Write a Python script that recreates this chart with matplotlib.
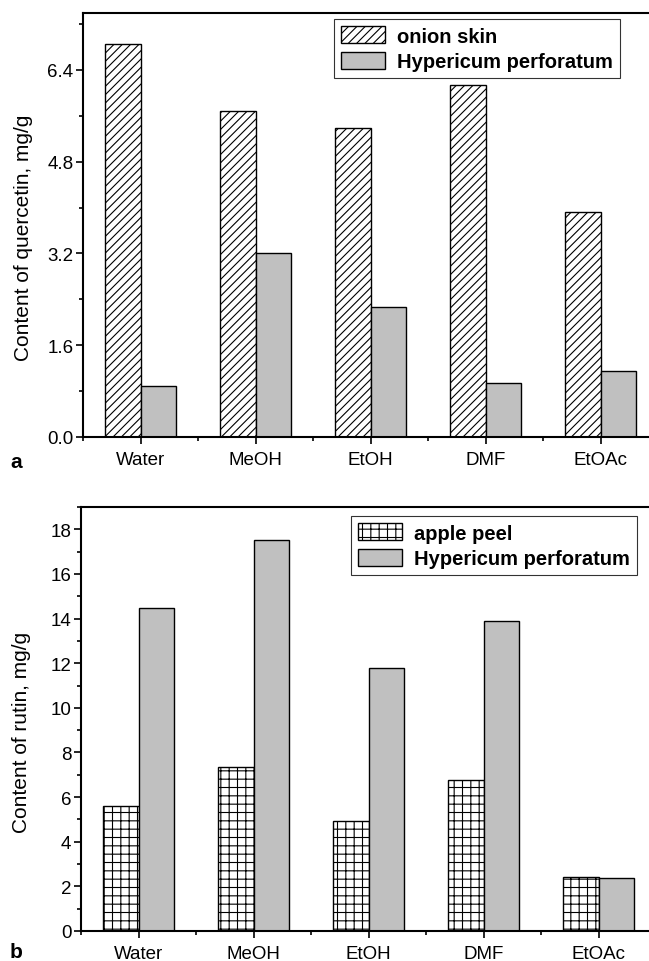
import matplotlib
matplotlib.use("Agg")
import matplotlib.pyplot as plt
from matplotlib.ticker import MultipleLocator, FixedLocator

plt.rcParams['font.family'] = ['Liberation Sans', 'DejaVu Sans']
plt.rcParams['hatch.linewidth'] = 0.8

categories = ["Water", "MeOH", "EtOH", "DMF", "EtOAc"]

# panel a: quercetin content, mg/g
onion_skin = [6.85, 5.69, 5.38, 6.13, 3.92]
hyp_quercetin = [0.89, 3.21, 2.27, 0.95, 1.15]

# panel b: rutin content, mg/g
apple_peel = [5.61, 7.34, 4.93, 6.78, 2.41]
hyp_rutin = [14.49, 17.54, 11.78, 13.91, 2.37]

W, H = 649, 962
fig = plt.figure(figsize=(W / 100, H / 100), dpi=100)

grey = "#c0c0c0"
bw = 0.305
px_per_unit = 115.0
TICK_FS = 13.5
LABEL_FS = 15
LEG_FS = 14.5


def make_axes(left_px, top_px, bottom_px):
    width_px = W - left_px + 20
    ax = fig.add_axes([left_px / W, 1 - bottom_px / H, width_px / W, (bottom_px - top_px) / H])
    ax.set_xlim(0.5, 0.5 + width_px / px_per_unit)
    for s in ["left", "top", "bottom"]:
        ax.spines[s].set_linewidth(1.5)
    ax.spines["right"].set_visible(False)
    xs = list(range(1, len(categories) + 1))
    ax.set_xticks(xs)
    ax.set_xticklabels(categories)
    ax.xaxis.set_minor_locator(FixedLocator([x + 0.5 for x in range(0, len(categories) + 1)]))
    ax.tick_params(axis="both", which="major", direction="out", length=5, width=1.2, labelsize=TICK_FS)
    ax.tick_params(axis="both", which="minor", direction="out", length=3, width=1.2)
    ax.tick_params(axis="x", pad=5)
    ax.tick_params(axis="y", pad=2)
    return ax, xs, width_px


def add_legend(ax, left_px, top_px, ax_left_px, ax_top_px, ax_bottom_px):
    width_px = W - ax_left_px + 20
    leg = ax.legend(loc="upper left",
                    bbox_to_anchor=((left_px - ax_left_px) / width_px,
                                    1 - (top_px - ax_top_px) / (ax_bottom_px - ax_top_px)),
                    prop={"weight": "bold", "size": LEG_FS}, frameon=True, fancybox=False,
                    borderpad=0.35, handlelength=2.2, handleheight=0.95, labelspacing=0.3,
                    handletextpad=0.6, borderaxespad=0)
    leg.get_frame().set_edgecolor("black")
    leg.get_frame().set_linewidth(0.8)
    return leg


# ---- panel a ----
ax1, xs, w1 = make_axes(83, 13.5, 438)
ax1.bar([x - bw / 2 for x in xs], onion_skin, width=bw, facecolor="white",
        edgecolor="black", hatch="////", linewidth=1.0, label="onion skin")
ax1.bar([x + bw / 2 for x in xs], hyp_quercetin, width=bw, facecolor=grey,
        edgecolor="black", linewidth=1.0, label="Hypericum perforatum")
ax1.set_ylim(0, 7.4)
ax1.yaxis.set_major_locator(MultipleLocator(1.6))
ax1.yaxis.set_minor_locator(MultipleLocator(0.8))
ax1.yaxis.set_major_formatter(matplotlib.ticker.FormatStrFormatter("%.1f"))
ax1.set_ylabel("Content of quercetin, mg/g", fontsize=LABEL_FS)
ax1.yaxis.set_label_coords((33 - 83) / w1, 1 - (238 - 13.5) / (438 - 13.5))
add_legend(ax1, 334, 20, 83, 13.5, 438)
fig.text(16 / W, 1 - 462 / H, "a", fontsize=15, fontweight="bold", va="center", ha="center")

# ---- panel b ----
ax2, xs, w2 = make_axes(81, 508, 932)
ax2.bar([x - bw / 2 for x in xs], apple_peel, width=bw, facecolor="white",
        edgecolor="black", hatch="++", linewidth=1.0, label="apple peel")
ax2.bar([x + bw / 2 for x in xs], hyp_rutin, width=bw, facecolor=grey,
        edgecolor="black", linewidth=1.0, label="Hypericum perforatum")
ax2.set_ylim(0, 19)
ax2.yaxis.set_major_locator(MultipleLocator(2))
ax2.yaxis.set_minor_locator(MultipleLocator(1))
ax2.set_ylabel("Content of rutin, mg/g", fontsize=LABEL_FS)
ax2.yaxis.set_label_coords((31 - 81) / w2, 1 - (732 - 508) / (932 - 508))
add_legend(ax2, 351, 517, 81, 508, 932)
fig.text(16 / W, 1 - 953 / H, "b", fontsize=15, fontweight="bold", va="center", ha="center")

fig.savefig("out.png", dpi=100)
